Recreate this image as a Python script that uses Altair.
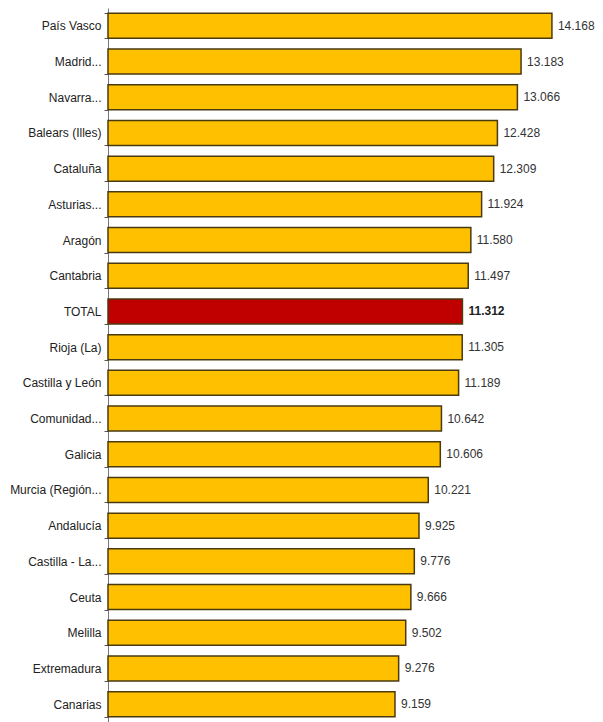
import altair as alt
import pandas as pd

regions = ["País Vasco", "Madrid...", "Navarra...", "Balears (Illes)", "Cataluña",
           "Asturias...", "Aragón", "Cantabria", "TOTAL", "Rioja (La)",
           "Castilla y León", "Comunidad...", "Galicia", "Murcia (Región...",
           "Andalucía", "Castilla - La...", "Ceuta", "Melilla", "Extremadura", "Canarias"]
values = [14168, 13183, 13066, 12428, 12309, 11924, 11580, 11497, 11312, 11305,
          11189, 10642, 10606, 10221, 9925, 9776, 9666, 9502, 9276, 9159]

df = pd.DataFrame({"region": regions, "value": values})

y = alt.Y("region:N", sort=regions, title=None,
          scale=alt.Scale(paddingInner=0.3, paddingOuter=0.15),
          axis=alt.Axis(labelFont="Liberation Sans", labelFontSize=12, labelColor="#222222",
                        labelPadding=3, tickSize=4, tickColor="#555555", tickBand="extent",
                        domainColor="#777777", labelLimit=200))
x = alt.X("value:Q", title=None, axis=None, scale=alt.Scale(domain=[0, 15000], nice=False))

base = alt.Chart(df).transform_calculate(
    lab="replace(format(datum.value, ','), ',', '.')"
)

bars = base.mark_bar(stroke="#4a3a10", strokeWidth=1.5).encode(
    y=y, x=x,
    color=alt.condition("datum.region == 'TOTAL'", alt.value("#C00000"), alt.value("#FFC000")),
)

labels = base.transform_filter("datum.region != 'TOTAL'").mark_text(
    align="left", baseline="middle", dx=6, font="Liberation Sans", fontSize=12,
    color="#333333").encode(y=y, x=x, text="lab:N")

labels_total = base.transform_filter("datum.region == 'TOTAL'").mark_text(
    align="left", baseline="middle", dx=6, font="Liberation Sans", fontSize=12,
    fontWeight="bold", color="#222222").encode(y=y, x=x, text="lab:N")

chart = (bars + labels + labels_total).properties(
    width=470, height=714,
    autosize=alt.AutoSizeParams(type="none"),
    padding={"left": 108, "top": 8, "right": 25, "bottom": 0},
    background="white",
).configure_view(stroke=None)

chart.save("out.html", embed_options={"renderer": "svg", "actions": False})
